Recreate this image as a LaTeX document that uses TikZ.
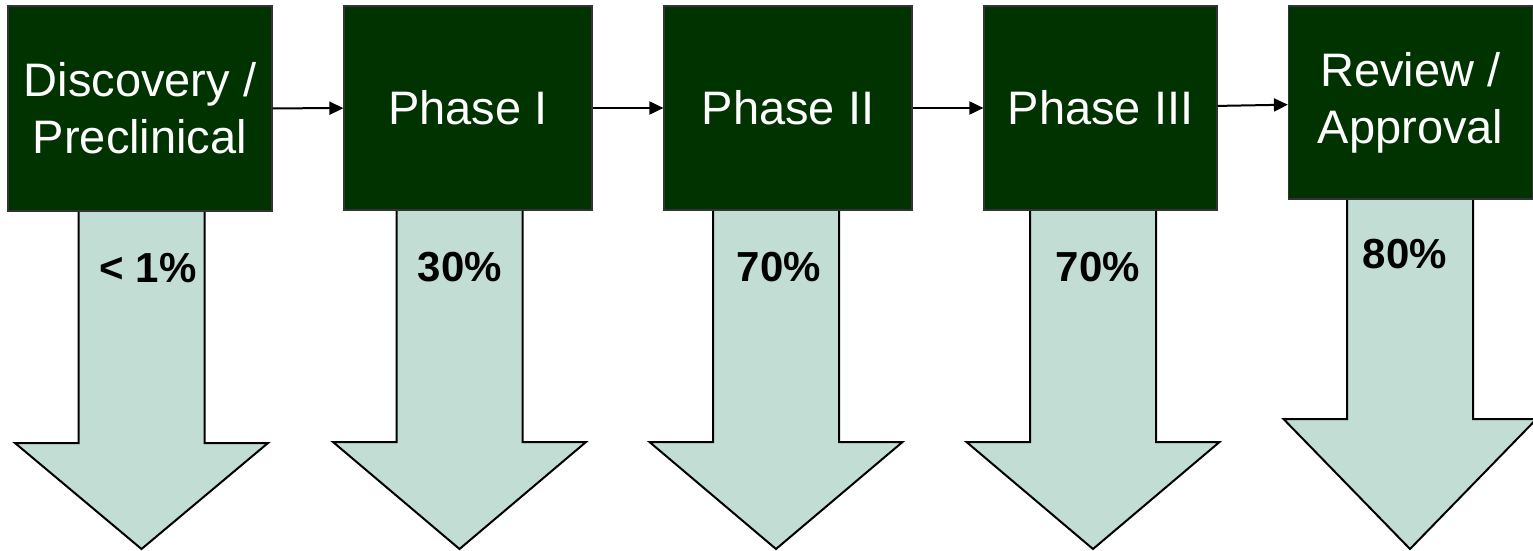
\documentclass[tikz,border=0pt]{standalone}
\usepackage{fontspec}
\setmainfont{Liberation Sans}
\usetikzlibrary{arrows.meta,positioning}

\definecolor{phasegreen}{HTML}{003300}
\definecolor{droptint}{HTML}{C2DDD4}

\tikzset{
  phase/.style={draw=black!80,line width=.6pt,fill=phasegreen,text=white,
    font=\fontsize{23.5}{28.5}\selectfont,align=center,inner sep=0pt,
    minimum height=102pt},
  drop/.style={draw=black,line width=1pt,fill=droptint,line join=miter},
  rate/.style={font=\bfseries\fontsize{21}{25}\selectfont},
  flow/.style={-{Triangle[length=7pt,width=6.5pt]},line width=1pt}
}

\begin{document}
\begin{tikzpicture}[x=.5pt,y=-.5pt]
\useasboundingbox (0,0) rectangle (1533,551);
% drop-out arrows: centre, top of shaft, start of head
\foreach \cx/\ty/\neck in {141.5/211/443, 459.5/210/442, 776/210/442, 1093/210/442, 1410/199/419}
  \draw[drop] (\cx-63,\ty) -- (\cx+63,\ty) -- (\cx+63,\neck) -- (\cx+126.5,\neck)
    -- (\cx,549) -- (\cx-126.5,\neck) -- (\cx-63,\neck) -- cycle;

\node[phase,minimum width=132pt,minimum height=102.5pt] (disc) at (140,108.5) {Discovery /\\Preclinical};
\node[phase,minimum width=124pt] (ph1) at (468,108) {Phase I};
\node[phase,minimum width=124pt] (ph2) at (788,108) {Phase II};
\node[phase,minimum width=116.5pt] (ph3) at (1100.5,108) {Phase III};
\node[phase,minimum width=122pt,minimum height=96.5pt] (rev) at (1410.5,102.5) {Review /\\Approval};

\node[rate] (r1) at (148,268) {< 1\%};
\node[rate] (r2) at (460,267) {30\%};
\node[rate] (r3) at (779,267) {70\%};
\node[rate] (r4) at (1098,267) {70\%};
\node[rate] (r5) at (1405,254) {80\%};

\draw[flow] (disc) -- (ph1);
\draw[flow] (ph1) -- (ph2);
\draw[flow] (ph2) -- (ph3);
\draw[flow] (ph3) -- (rev);
\end{tikzpicture}
\end{document}
